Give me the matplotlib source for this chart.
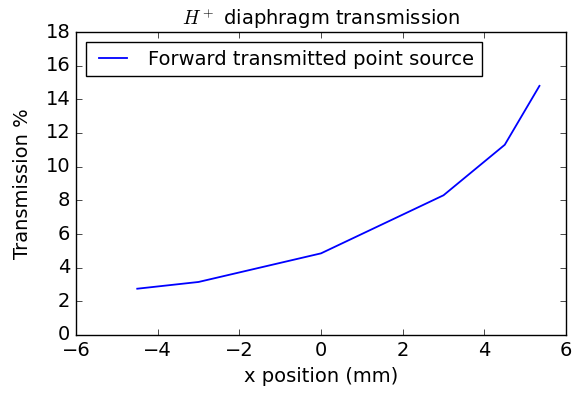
import matplotlib
matplotlib.use("Agg")
import matplotlib.pyplot as plt

plt.style.use("classic")

x_pos = [-4.5, -3.0, 0.0, 3.0, 4.5, 5.35]
transmission = [2.75, 3.15, 4.85, 8.3, 11.3, 14.8]

FS = 14

fig = plt.figure(figsize=(5.74, 3.94), dpi=100, facecolor="white")
ax = fig.add_axes([76 / 574, 1 - 335 / 394, 490 / 574, 303 / 394])

ax.plot(x_pos, transmission, color="blue", linewidth=1.3,
        label="Forward transmitted point source")
ax.set_xlim(-6, 6)
ax.set_ylim(0, 18)
ax.set_xticks(range(-6, 7, 2))
ax.set_yticks(range(0, 19, 2))
ax.tick_params(labelsize=FS)
ax.set_xlabel("x position (mm)", fontsize=FS)
ax.set_ylabel("Transmission %", fontsize=FS, labelpad=10)
ax.set_title(r"$H^+$ diaphragm transmission", fontsize=FS)
ax.legend(loc="upper left", fontsize=FS)

fig.savefig("out.png", dpi=100, facecolor="white")
